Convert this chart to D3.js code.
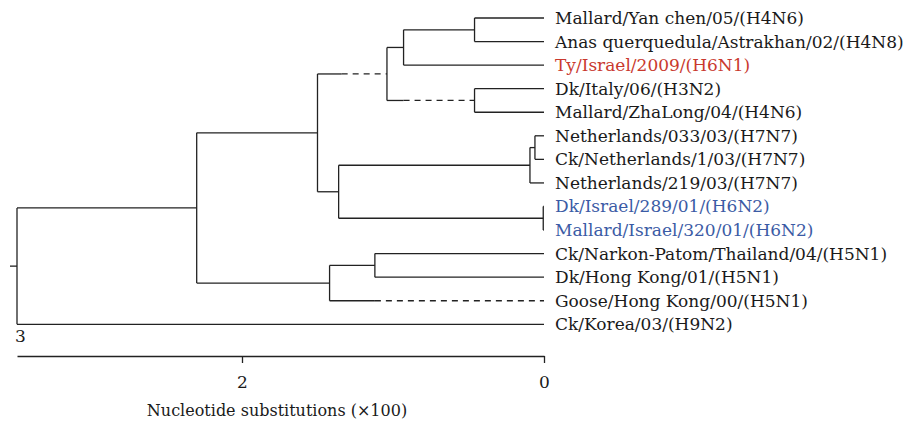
<!DOCTYPE html>
<meta charset="UTF-8">
<html>
	<head>
		<script src="https://d3js.org/d3.v7.min.js"></script>
		<style>
			body { margin: 0; background: #fff; }
			.Tree path { fill: none; stroke: #222; stroke-width: 1.3px; }
			.Tree .domain, .Tree .tick line { stroke: #222; stroke-width: 1.3px; }
		</style>
	</head>
	<body>
		<svg class="Tree"></svg>
		<script type="text/javascript">
			// internal nodes: id, parent, depth (substitutions x100 from the tips)
			var NodeIds     = ["root", "A",    "B",  "C",  "D",  "E",  "F",  "G",  "H",   "J",  "I",   "K",  "L"];
			var NodeParents = ["",     "root", "A",  "B",  "C",  "D",  "C",  "B",  "G",   "H",  "G",   "A",  "K"];
			var NodeDepths  = [3.49,   2.30,   1.50, 1.04, 0.93, 0.46, 0.46, 1.36, 0.093, 0.06, 0.005, 1.42, 1.12];

			// leaves, top to bottom
			var Taxa = [
				"Mallard/Yan chen/05/(H4N6)",
				"Anas querquedula/Astrakhan/02/(H4N8)",
				"Ty/Israel/2009/(H6N1)",
				"Dk/Italy/06/(H3N2)",
				"Mallard/ZhaLong/04/(H4N6)",
				"Netherlands/033/03/(H7N7)",
				"Ck/Netherlands/1/03/(H7N7)",
				"Netherlands/219/03/(H7N7)",
				"Dk/Israel/289/01/(H6N2)",
				"Mallard/Israel/320/01/(H6N2)",
				"Ck/Narkon-Patom/Thailand/04/(H5N1)",
				"Dk/Hong Kong/01/(H5N1)",
				"Goose/Hong Kong/00/(H5N1)",
				"Ck/Korea/03/(H9N2)"
			];
			var TaxonParents = ["E", "E", "D", "F", "F", "J", "J", "H", "I", "I", "L", "L", "K", "root"];
			var RedTaxa  = ["Ty/Israel/2009/(H6N1)"];
			var BlueTaxa = ["Dk/Israel/289/01/(H6N2)", "Mallard/Israel/320/01/(H6N2)"];

			// branches drawn partly dashed: id and depth where the dashes begin
			var DashedIds    = ["C",  "F",  "Goose/Hong Kong/00/(H5N1)"];
			var DashedStarts = [1.34, 0.93, 1.12];

			var AxisTicks = [2, 0];
			var AxisMax = 3.49;
			var AxisTitle = "Nucleotide substitutions (\u00d7100)";

			var Width = 907, Height = 423;
			var Serif = "'DejaVu Serif'";

			var Rows = [];
			NodeIds.forEach(function(Id, i) { Rows.push({"id": Id, "parent": NodeParents[i], "depth": NodeDepths[i]}); });
			Taxa.forEach(function(Name, i) { Rows.push({"id": Name, "parent": TaxonParents[i], "depth": 0, "leaf": true}); });

			var Root = d3.stratify()
						.id(function(d) { return d.id; })
						.parentId(function(d) { return d.parent || null; })(Rows);

			var XScale = d3.scaleLinear().domain([AxisMax, 0]).range([17, 544]);
			var YScale = d3.scalePoint().domain(Taxa).range([18, 324.3]);

			// leaf rows first, internal nodes at the middle of their children
			Root.eachAfter(function(Node)
			{
				if (Node.data.leaf) { Node.y = YScale(Node.id); }
				else { Node.y = (Node.children[0].y + Node.children[Node.children.length - 1].y) / 2; }
				Node.x = XScale(Node.data.depth);
			});

			var Svg = d3.select(".Tree").attr("width", Width).attr("height", Height);

			// verticals
			Svg.append("g").selectAll("path")
				.data(Root.descendants().filter(function(d) { return d.children; }))
				.enter().append("path")
				.attr("d", function(d)
				{
					var Ys = d.children.map(function(c) { return c.y; });
					return "M" + d.x + "," + d3.min(Ys) + "V" + d3.max(Ys);
				});

			// horizontals
			Svg.append("g").selectAll("path")
				.data(Root.descendants().filter(function(d) { return d.parent; }))
				.enter().append("path")
				.attr("d", function(d)
				{
					var k = DashedIds.indexOf(d.id);
					var End = (k < 0) ? d.x : XScale(DashedStarts[k]);
					return "M" + d.parent.x + "," + d.y + "H" + End;
				});

			Svg.append("g").selectAll("path")
				.data(Root.descendants().filter(function(d) { return DashedIds.indexOf(d.id) >= 0; }))
				.enter().append("path")
				.style("stroke-dasharray", "6,5")
				.attr("d", function(d)
				{
					return "M" + XScale(DashedStarts[DashedIds.indexOf(d.id)]) + "," + d.y + "H" + d.x;
				});

			// root stub
			Svg.append("path").attr("d", "M" + (Root.x - 7) + "," + Root.y + "H" + Root.x);

			// leaf labels
			Svg.append("g").selectAll("text")
				.data(Root.leaves())
				.enter().append("text")
				.attr("x", function(d) { return d.x + 11; })
				.attr("y", function(d) { return d.y; })
				.attr("dy", "0.35em")
				.style("font-family", Serif)
				.style("font-size", "17px")
				.style("fill", function(d)
				{
					if (RedTaxa.indexOf(d.id) >= 0) return "#c9392e";
					if (BlueTaxa.indexOf(d.id) >= 0) return "#3b5ba5";
					return "#1a1a1a";
				})
				.text(function(d) { return d.id; });

			// scale axis
			var Axis = Svg.append("g")
				.attr("transform", "translate(0,356)")
				.call(d3.axisBottom(XScale).tickValues(AxisTicks).tickSize(7).tickSizeOuter(0).tickPadding(13).tickFormat(d3.format("d")));
			Axis.selectAll("text")
				.style("font-family", Serif)
				.style("font-size", "17px")
				.style("fill", "#1a1a1a");

			Svg.append("text")
				.attr("x", XScale(AxisMax) - 2)
				.attr("y", 342)
				.style("font-family", Serif)
				.style("font-size", "17px")
				.style("fill", "#1a1a1a")
				.text(Math.floor(AxisMax));

			Svg.append("text")
				.attr("x", 277)
				.attr("y", 416)
				.attr("text-anchor", "middle")
				.style("font-family", Serif)
				.style("font-size", "16px")
				.style("fill", "#1a1a1a")
				.text(AxisTitle);
		</script>
	</body>
</html>
